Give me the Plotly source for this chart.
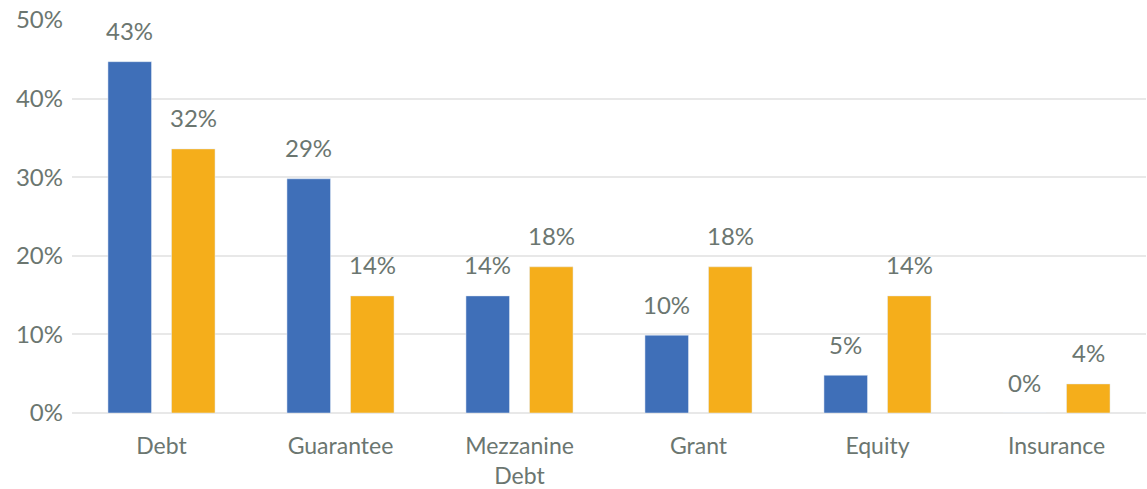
import plotly.graph_objects as go

categories = ["Debt", "Guarantee", "Mezzanine<br>Debt", "Grant", "Equity", "Insurance"]
series_a = [44.7, 29.8, 14.9, 9.9, 4.8, 0.0]
series_b = [33.6, 14.9, 18.6, 18.6, 14.9, 3.7]
labels_a = ["43%", "29%", "14%", "10%", "5%", "0%"]
labels_b = ["32%", "14%", "18%", "18%", "14%", "4%"]
y_ticks = [0, 10, 20, 30, 40, 50]
y_tick_labels = ["0%", "10%", "20%", "30%", "40%", "50%"]

BLUE = "#3F6FB8"
ORANGE = "#F5AE1B"
TEXT = "#6B7670"
FONT = "Lato"

fig = go.Figure()
fig.add_trace(go.Bar(x=categories, y=series_a, marker_color=BLUE, name="A"))
fig.add_trace(go.Bar(x=categories, y=series_b, marker_color=ORANGE, name="B"))

annotations = []
for vals, labs, shift in [(series_a, labels_a, -31.75), (series_b, labels_b, 31.75)]:
    for c, v, t in zip(categories, vals, labs):
        annotations.append(dict(x=c, y=v, text=t, showarrow=False, xshift=shift,
                                yshift=31, yanchor="middle",
                                font=dict(family=FONT, size=24, color=TEXT)))

fig.update_layout(
    width=1147, height=489,
    margin=dict(l=72, r=1, t=20, b=76),
    paper_bgcolor="white", plot_bgcolor="white",
    barmode="group", bargap=0.29, bargroupgap=0.315,
    showlegend=False,
    font=dict(family=FONT, size=23, color=TEXT),
    annotations=annotations,
    xaxis=dict(showgrid=False, showline=False, ticks="", automargin=False,
               ticklabelstandoff=17, tickfont=dict(size=23, color=TEXT)),
    yaxis=dict(range=[0, 50], tickvals=y_ticks, ticktext=y_tick_labels, automargin=False,
               showgrid=True, gridcolor="#E8E8E8", gridwidth=1.5, zeroline=True,
               zerolinecolor="#E8E8E8", zerolinewidth=1.5, ticks="", ticklabelstandoff=8,
               tickfont=dict(size=24, color=TEXT)),
)

fig.write_html("out.html", config={"displayModeBar": False},
               post_script="document.body.style.margin='0';document.body.style.overflow='hidden';")
